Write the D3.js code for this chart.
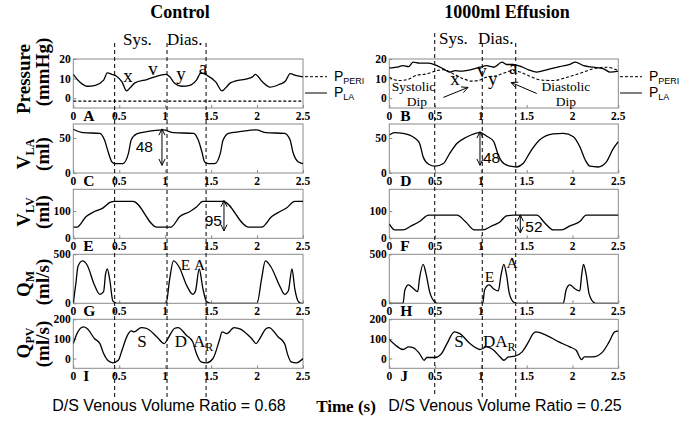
<!DOCTYPE html>
<html>
<head>
<meta charset="utf-8">
<script src="https://cdn.jsdelivr.net/npm/d3@7"></script>
<style>
  body { margin: 0; background: #fff; }
  text { fill: #000; }
  .serif { font-family: "Liberation Serif", "Times New Roman", serif; }
  .sans { font-family: "Liberation Sans", Arial, sans-serif; }
</style>
</head>
<body>
<svg id="fig" width="685" height="421"></svg>
<script>
// time axis
var timeTicks = [0, 0.5, 1, 1.5, 2, 2.5];
var timeLabels = ["0", "0.5", "1", "1.5", "2", "2.5"];

// phase markers (s)
var ctrlPhase = [0.45, 1.02, 1.445];
var effPhase = [0.496, 1.015, 1.38];

// --- Control (left column) ---
var ctrlPlaT = [0,0.07,0.155,0.24,0.33,0.37,0.42,0.47,0.53,0.58,0.62,0.67,0.80,1.01,1.05,1.10,1.18,1.27,1.34,1.39,1.46,1.55,1.62,1.66,1.71,1.95,1.98,2.06,2.14,2.24,2.31,2.36,2.43,2.5];
var ctrlPlaV = [12.2,8.3,6.1,6.6,9.2,12.9,12.2,11.2,8.3,3.7,5.4,7.8,9.5,12.2,10.9,7.8,6.1,6.6,9.2,12.9,11.5,8.3,3.7,5.4,7.8,10.9,12.2,8.3,5.6,7,8.8,12.5,11.5,10.9];
var ctrlPperiT = [0, 2.5];
var ctrlPperiV = [-1.5, -1.5];

var ctrlVlaT = [0,0.11,0.29,0.34,0.38,0.42,0.45,0.54,0.6,0.63,0.69,0.8,0.98,1.09,1.31,1.36,1.4,1.43,1.47,1.54,1.6,1.63,1.69,1.81,1.99,2.1,2.3,2.36,2.39,2.45,2.5];
var ctrlVlaV = [62.5,57.6,56.7,47,30,15.8,13.5,13.5,28,47,55.8,59,61.5,57.6,56.7,47,30,15.8,13.5,13.5,28,47,56.7,59,61.5,57.6,56.7,47,30,15.8,13.5];

var ctrlVlvT = [0,0.04,0.14,0.23,0.32,0.4,0.45,0.65,0.91,1.06,1.16,1.27,1.34,1.41,1.63,1.91,2.05,2.16,2.25,2.32,2.39,2.41,2.5];
var ctrlVlvV = [40.7,40.7,80,98.5,111,132,135.6,135.6,40.7,40.7,80,98.5,114.8,135.6,135.6,40.7,40.7,80,98.5,111,133,135.6,135.6];

var ctrlQmT = [0,0.03,0.05,0.1,0.15,0.23,0.29,0.33,0.35,0.37,0.4,0.43,0.47,1.01,1.05,1.09,1.15,1.24,1.3,1.33,1.37,1.41,1.45,1.5,2.0,2.05,2.09,2.15,2.25,2.3,2.34,2.38,2.41,2.45,2.48,2.5];
var ctrlQmV = [0,220,373,432,391,187,92,119,289,350,220,24,0,0,255,432,373,170,92,126,350,153,17,0,0,255,432,373,170,92,126,350,153,17,0,0];

var ctrlQpvT = [0,0.04,0.11,0.15,0.23,0.29,0.33,0.38,0.43,0.49,0.53,0.59,0.63,0.66,0.74,0.8,0.91,0.99,1.03,1.1,1.14,1.23,1.3,1.34,1.39,1.45,1.52,1.59,1.62,1.67,1.75,1.82,1.94,1.99,2.03,2.1,2.13,2.23,2.3,2.33,2.37,2.43,2.5];
var ctrlQpvV = [76,127,161,153,102,76,25,-12,-22,-9,42,119,141,136,158,153,110,76,102,153,158,119,85,25,-17,-22,0,93,136,127,158,150,102,76,102,153,158,110,76,25,-17,-22,0];

// --- 1000ml Effusion (right column) ---
var effPlaT = [0,0.08,0.15,0.21,0.26,0.33,0.43,0.52,0.59,0.66,0.72,0.77,0.99,1.06,1.14,1.23,1.28,1.35,1.44,1.52,1.61,1.72,1.86,1.97,2.03,2.12,2.23,2.34,2.41,2.5];
var effPlaV = [15.3,15.8,16.6,16.1,18.4,17.9,17.9,16.6,15,13.3,14.1,13.8,15.8,16.6,15.8,18.4,17.2,17.2,16.1,14.5,13.3,14.5,16.1,17.2,18.4,16.6,15.8,15,13.3,13.8];
var effPperiT = [0,0.1,0.19,0.3,0.41,0.52,0.59,0.7,0.81,0.9,0.97,1.06,1.17,1.28,1.35,1.43,1.52,1.64,1.79,1.94,2.08,2.23,2.37,2.5];
var effPperiV = [10.7,9,9.4,11.7,12.4,14.1,14.5,12.4,9.9,8.7,9,10.7,11.5,13.3,14.1,13.3,11.5,9.4,9,10.7,12.7,15,15.8,14.1];

var effVlaT = [0,0.06,0.15,0.28,0.33,0.37,0.43,0.5,0.59,0.66,0.74,0.84,0.99,1.06,1.14,1.19,1.25,1.32,1.39,1.46,1.54,1.64,1.79,1.9,2.01,2.08,2.14,2.19,2.28,2.37,2.44,2.5];
var effVlaV = [54.3,57.6,56.7,49.6,42.4,23,12.5,9.7,13.5,28,42.4,51,57.6,52.9,44.7,25.5,13.5,9.7,8.6,13.5,30.3,47,55.8,56.7,51.9,37.5,18.3,9.7,8.6,15.8,33.7,44.7];

var effVlvT = [0,0.06,0.15,0.24,0.33,0.43,0.74,0.83,0.93,1.02,1.12,1.2,1.28,1.35,1.61,1.7,1.79,1.88,1.97,2.08,2.15,2.5];
var effVlvV = [53,30.7,30.7,45.6,61.5,85,85,61.5,30.7,30.7,45.6,57.8,82.6,85,85,55.5,30.7,30.7,45.6,61.5,85,85];

var effQmT = [0,0.15,0.17,0.21,0.26,0.31,0.33,0.37,0.4,0.44,0.5,0.52,1.02,1.04,1.09,1.14,1.19,1.22,1.25,1.28,1.31,1.36,1.39,1.9,1.93,1.97,2.03,2.08,2.1,2.12,2.15,2.18,2.23,2.25,2.5];
var effQmV = [0,0,136,187,153,119,255,398,306,119,10,0,0,136,187,146,126,289,398,289,102,10,0,0,136,187,146,126,289,398,289,102,10,0,0];

var effQpvT = [0,0.08,0.15,0.21,0.26,0.33,0.38,0.41,0.5,0.57,0.63,0.71,0.77,0.88,0.99,1.06,1.14,1.21,1.25,1.3,1.37,1.45,1.52,1.57,1.6,1.71,1.85,1.97,2.04,2.1,2.13,2.22,2.33,2.4,2.46,2.5];
var effQpvV = [97,63,46,59,56,25,-9,5,5,25,76,136,127,76,46,59,42,8,-9,8,12,34,85,127,136,119,85,59,42,-5,8,8,34,85,136,141];

// y axes per row
var rowDomains = [[-5, 20], [0, 70], [0, 180], [0, 500], [-50, 200]];
var rowTicks = [[0, 10, 20], [0, 50], [0, 100], [0, 500], [0, 100, 200]];

// layout
var colX = [[73.3, 303], [389.3, 618.3]];
var rowTop = [59, 124, 189.3, 254.3, 319.3];
var panelH = 49;

var svg = d3.select("#fig");
svg.append("rect").attr("width", 685).attr("height", 421).attr("fill", "#fff");

function zip(t, v) { return t.map(function(d, i){ return [d, v[i]]; }); }

var line = d3.line().curve(d3.curveMonotoneX);

var panels = [
  { col: 0, row: 0, letter: "A", series: [[ctrlPlaT, ctrlPlaV, false], [ctrlPperiT, ctrlPperiV, true]] },
  { col: 0, row: 1, letter: "C", series: [[ctrlVlaT, ctrlVlaV, false]] },
  { col: 0, row: 2, letter: "E", series: [[ctrlVlvT, ctrlVlvV, false]] },
  { col: 0, row: 3, letter: "G", series: [[ctrlQmT, ctrlQmV, false]] },
  { col: 0, row: 4, letter: "I", series: [[ctrlQpvT, ctrlQpvV, false]] },
  { col: 1, row: 0, letter: "B", series: [[effPlaT, effPlaV, false], [effPperiT, effPperiV, true]] },
  { col: 1, row: 1, letter: "D", series: [[effVlaT, effVlaV, false]] },
  { col: 1, row: 2, letter: "F", series: [[effVlvT, effVlvV, false]] },
  { col: 1, row: 3, letter: "H", series: [[effQmT, effQmV, false]] },
  { col: 1, row: 4, letter: "J", series: [[effQpvT, effQpvV, false]] }
];

var xs = colX.map(function(c){ return d3.scaleLinear().domain([0, 2.5]).range(c); });
var ysc = {};

panels.forEach(function(p){
  var x = xs[p.col];
  var top = rowTop[p.row], bot = top + panelH;
  var y = d3.scaleLinear().domain(rowDomains[p.row]).range([bot, top]);
  ysc[p.letter] = y;
  var g = svg.append("g");

  // frame
  g.append("rect")
    .attr("x", x.range()[0]).attr("y", top)
    .attr("width", x.range()[1] - x.range()[0]).attr("height", panelH)
    .attr("fill", "none").attr("stroke", "#8a8a8a").attr("stroke-width", 1);

  // x ticks (inward) + labels
  var xa = g.append("g").attr("transform", "translate(0," + bot + ")")
    .call(d3.axisBottom(x).tickValues(timeTicks).tickSizeInner(-3).tickSizeOuter(0).tickFormat(""));
  xa.select(".domain").remove();
  xa.selectAll("line").attr("stroke", "#8a8a8a");
  g.selectAll(".xl").data(timeTicks).enter().append("text")
    .attr("class", "serif")
    .attr("x", function(d){ return x(d); })
    .attr("y", bot + 12)
    .attr("text-anchor", "middle")
    .style("font-size", "11.5px").style("font-weight", "bold")
    .text(function(d, i){ return timeLabels[i]; });

  // y ticks (inward) + labels
  var ya = g.append("g").attr("transform", "translate(" + x.range()[0] + ",0)")
    .call(d3.axisLeft(y).tickValues(rowTicks[p.row]).tickSizeInner(-3).tickSizeOuter(0).tickFormat(""));
  ya.select(".domain").remove();
  ya.selectAll("line").attr("stroke", "#8a8a8a");
  g.selectAll(".yl").data(rowTicks[p.row]).enter().append("text")
    .attr("class", "serif")
    .attr("x", x.range()[0] - 2.5)
    .attr("y", function(d){ return y(d) + 4; })
    .attr("text-anchor", "end")
    .style("font-size", "11.5px").style("font-weight", "bold")
    .text(function(d){ return d; });

  // panel letter
  g.append("text").attr("class", "serif")
    .attr("x", x.range()[0] + (p.col === 0 ? 10 : 11)).attr("y", bot + 13)
    .style("font-size", "15.5px").style("font-weight", "bold")
    .text(p.letter);

  // curves
  var clipId = "clip" + p.letter;
  g.append("clipPath").attr("id", clipId).append("rect")
    .attr("x", x.range()[0]).attr("y", top)
    .attr("width", x.range()[1] - x.range()[0]).attr("height", panelH);
  p.series.forEach(function(s){
    line.x(function(d){ return x(d[0]); }).y(function(d){ return y(d[1]); });
    g.append("path")
      .attr("d", line(zip(s[0], s[1])))
      .attr("clip-path", "url(#" + clipId + ")")
      .attr("fill", "none").attr("stroke", "#000")
      .attr("stroke-width", s[2] ? 1.1 : 1.3)
      .attr("stroke-dasharray", s[2] ? "3,2" : null);
  });
});

// vertical phase markers
function phaseLines(x, ts, tops) {
  ts.forEach(function(t, i){
    svg.append("line")
      .attr("x1", x(t)).attr("x2", x(t))
      .attr("y1", tops[i]).attr("y2", 397)
      .attr("stroke", "#000").attr("stroke-width", 1)
      .attr("stroke-dasharray", "4,3");
  });
}
phaseLines(xs[0], ctrlPhase, [43, 43, 43]);
phaseLines(xs[1], effPhase, [33, 43, 43]);

// titles
function txt(x, y, s, size, cls, opts) {
  opts = opts || {};
  return svg.append("text").attr("class", cls)
    .attr("x", x).attr("y", y)
    .attr("text-anchor", opts.anchor || "start")
    .style("font-size", size + "px")
    .style("font-weight", opts.bold ? "bold" : "normal")
    .text(s);
}
txt(180, 18, "Control", 18, "serif", { anchor: "middle", bold: true });
txt(507, 18, "1000ml Effusion", 18, "serif", { anchor: "middle", bold: true });
txt(123, 44.5, "Sys.", 17, "serif");
txt(167, 44.5, "Dias.", 17, "serif");
txt(439, 43.5, "Sys.", 17, "serif");
txt(478, 43.5, "Dias.", 17, "serif");

// y-axis labels (rotated, two lines)
var yLabels = [
  { main: "Pressure", sub: "", unit: "(mmHg)", c1: 79, c2: 72 },
  { main: "V", sub: "LA", unit: "(ml)", c1: 154, c2: 154 },
  { main: "V", sub: "LV", unit: "(ml)", c1: 212, c2: 212 },
  { main: "Q", sub: "M", unit: "(ml/s)", c1: 284, c2: 282 },
  { main: "Q", sub: "PV", unit: "(ml/s)", c1: 343, c2: 344 }
];
yLabels.forEach(function(l){
  var t1 = svg.append("text").attr("class", "serif")
    .attr("transform", "translate(30," + l.c1 + ") rotate(-90)")
    .attr("text-anchor", "middle")
    .style("font-size", "19px").style("font-weight", "bold");
  t1.append("tspan").text(l.main);
  if (l.sub) t1.append("tspan").attr("dy", 4).style("font-size", "12px").text(l.sub);
  svg.append("text").attr("class", "serif")
    .attr("transform", "translate(49," + l.c2 + ") rotate(-90)")
    .attr("text-anchor", "middle")
    .style("font-size", "19px").style("font-weight", "bold")
    .text(l.unit);
});

// legends between/after columns
function legend(x0) {
  svg.append("line").attr("x1", x0).attr("x2", x0 + 22).attr("y1", 76.7).attr("y2", 76.7)
    .attr("stroke", "#000").attr("stroke-dasharray", "3,2");
  svg.append("line").attr("x1", x0).attr("x2", x0 + 22).attr("y1", 93).attr("y2", 93)
    .attr("stroke", "#000");
  var a = svg.append("text").attr("class", "sans").attr("x", x0 + 29).attr("y", 81)
    .style("font-size", "14px");
  a.append("tspan").text("P");
  a.append("tspan").attr("dy", 3).style("font-size", "9px").text("PERI");
  var b = svg.append("text").attr("class", "sans").attr("x", x0 + 29).attr("y", 97)
    .style("font-size", "14px");
  b.append("tspan").text("P");
  b.append("tspan").attr("dy", 3).style("font-size", "9px").text("LA");
}
legend(305);
legend(620);

// letter annotations in data coordinates
var xL = xs[0], xR = xs[1];
var pA = ysc.A, pB = ysc.B;
[["x", 0.595, 8.3], ["v", 0.868, 11.8], ["y", 1.172, 9.3], ["a", 1.412, 12.3]].forEach(function(a){
  txt(xL(a[1]), pA(a[2]), a[0], 19, "serif", { anchor: "middle" });
});
[["x", 0.717, 6.7], ["v", 1.012, 10.7], ["y", 1.13, 6.7], ["a", 1.352, 12.3]].forEach(function(a){
  txt(xR(a[1]), pB(a[2]), a[0], 19, "serif", { anchor: "middle" });
});
[["Systolic", 0.263, 3.6], ["Dip", 0.3, -4.2], ["Diastolic", 1.929, 3.6], ["Dip", 1.929, -4.2]].forEach(function(a){
  txt(xR(a[1]), pB(a[2]), a[0], 13.5, "serif", { anchor: "middle" });
});

// simple arrows
function head(x, y, ang) {
  var L = 7, w = 0.45;
  var p = [[x + L * Math.cos(ang + w), y + L * Math.sin(ang + w)], [x, y], [x + L * Math.cos(ang - w), y + L * Math.sin(ang - w)]];
  svg.append("path").attr("d", d3.line()(p)).attr("fill", "none").attr("stroke", "#000").attr("stroke-width", 1);
}
function arrow(x1, y1, x2, y2, both) {
  svg.append("line").attr("x1", x1).attr("y1", y1).attr("x2", x2).attr("y2", y2)
    .attr("stroke", "#000").attr("stroke-width", 1);
  head(x2, y2, Math.atan2(y1 - y2, x1 - x2));
  if (both) head(x1, y1, Math.atan2(y2 - y1, x2 - x1));
}
arrow(xR(0.59), pB(0.4), xR(0.86), pB(5.5), false);
arrow(xR(1.61), pB(2.4), xR(1.33), pB(8.0), false);

// volume change arrows: [letter, t, top, bottom, label, dx, dy, anchor]
var volArrows = [
  ["C", 0.965, 63, 11, "48", -9, 5, "end"],
  ["D", 0.99, 59, 11, "48", 3, 14.5, "start"],
  ["E", 1.64, 139, 27, "95", -2, 10.5, "end"],
  ["F", 1.43, 86, 20, "52", 5, 8, "start"]
];
volArrows.forEach(function(a){
  var x = (a[0] === "C" || a[0] === "E") ? xL : xR;
  var y = ysc[a[0]];
  var y1 = y(a[2]), y2 = y(a[3]);
  arrow(x(a[1]), y1, x(a[1]), y2, true);
  txt(x(a[1]) + a[5], (y1 + y2) / 2 + a[6], a[4], 15.5, "sans", { anchor: a[7] });
});

// E/A, S/D/AR labels
txt(xL(1.221), ysc.G(340), "E", 15.5, "serif", { anchor: "middle" });
txt(xL(1.374), ysc.G(340), "A", 15.5, "serif", { anchor: "middle" });
txt(xR(1.094), ysc.H(217), "E", 15.5, "serif", { anchor: "middle" });
txt(xR(1.34), ysc.H(360), "A", 15.5, "serif", { anchor: "middle" });

function sdLabels(x, y, tS, tD, tA) {
  txt(x(tS), y(58.7), "S", 17, "serif", { anchor: "middle" });
  txt(x(tD), y(58.7), "D", 17, "serif", { anchor: "middle" });
  var t = txt(x(tA) - 5, y(58.7), "A", 17, "serif");
  t.append("tspan").attr("dy", 4).style("font-size", "12px").text("R");
}
sdLabels(xL, ysc.I, 0.748, 1.172, 1.357);
sdLabels(xR, ysc.J, 0.76, 1.09, 1.21);

// bottom captions
txt(169, 411, "D/S Venous Volume Ratio = 0.68", 16, "sans", { anchor: "middle" });
txt(505, 411, "D/S Venous Volume Ratio = 0.25", 16, "sans", { anchor: "middle" });
txt(346, 412, "Time (s)", 17, "serif", { anchor: "middle", bold: true });
</script>
</body>
</html>
